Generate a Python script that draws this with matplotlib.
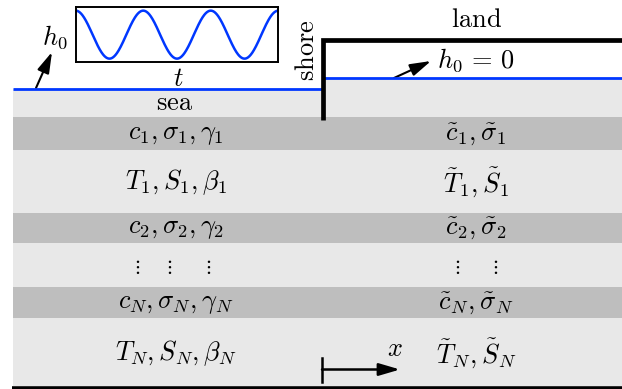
import numpy as np
import matplotlib.pyplot as plt
from matplotlib.patches import Rectangle, FancyArrowPatch

plt.rcParams['mathtext.fontset'] = 'cm'
plt.rcParams['font.family'] = ['DejaVu Serif']

# ---- data ----
sea_labels = [r'$c_1,\sigma_1,\gamma_1$', r'$T_1,S_1,\beta_1$', r'$c_2,\sigma_2,\gamma_2$',
              r'$\vdots\quad\ \vdots\quad\ \ \vdots$', r'$c_N,\sigma_N,\gamma_N$', r'$T_N,S_N,\beta_N$']
land_labels = [r'$\tilde{c}_1,\tilde{\sigma}_1$', r'$\tilde{T}_1,\tilde{S}_1$',
               r'$\tilde{c}_2,\tilde{\sigma}_2$', r'$\vdots\quad\ \ \vdots$',
               r'$\tilde{c}_N,\tilde{\sigma}_N$', r'$\tilde{T}_N,\tilde{S}_N$']
layer_tops = [117, 149.5, 212.5, 242.5, 287, 318]
layer_bottoms = [149.5, 212.5, 242.5, 287, 318, 386]
layer_shade = ['dark', 'light', 'dark', 'light', 'dark', 'light']
n_periods = 3

LIGHT = '#e8e8e8'
DARK = '#bebebe'
BLUE = '#0037ff'
FS = 19

fig = plt.figure(figsize=(6.22, 3.89), dpi=100)
ax = fig.add_axes([0, 0, 1, 1])
ax.set_xlim(0, 622)
ax.set_ylim(389, 0)
ax.axis('off')

# sea surface layers
ax.add_patch(Rectangle((13, 88.5), 309, 117 - 88.5, color=LIGHT, lw=0))
ax.add_patch(Rectangle((322, 78), 300, 117 - 78, color=LIGHT, lw=0))
for top, bot, sh in zip(layer_tops, layer_bottoms, layer_shade):
    ax.add_patch(Rectangle((13, top), 609, bot - top, color=DARK if sh == 'dark' else LIGHT, lw=0))

for top, bot, sl, ll in zip(layer_tops, layer_bottoms, sea_labels, land_labels):
    yc = (top + bot) / 2 + 1
    if 'vdots' in sl:
        ax.text(172, yc + 1, sl, fontsize=14, ha='center', va='center')
        ax.text(475, yc + 1, ll, fontsize=14, ha='center', va='center')
    else:
        ax.text(176, yc, sl, fontsize=FS, ha='center', va='center')
        ax.text(476, yc, ll, fontsize=FS, ha='center', va='center')

# water lines
ax.plot([13, 322], [88.5, 88.5], color=BLUE, lw=2, solid_capstyle='butt')
ax.plot([322, 622], [78, 78], color=BLUE, lw=2, solid_capstyle='butt')

# shore / land outline
ax.plot([322.5, 322.5, 622], [120, 40, 40], color='black', lw=3.4,
        solid_joinstyle='miter', solid_capstyle='butt')
# bottom line
ax.plot([12, 622], [387.5, 387.5], color='black', lw=2.6, solid_capstyle='butt')

# arrows
head = '-|>,head_length=0.75,head_width=0.22'
ax.add_patch(FancyArrowPatch((36, 88), (52, 52), arrowstyle=head, mutation_scale=17,
                             lw=1.5, color='black', shrinkA=0, shrinkB=0))
ax.add_patch(FancyArrowPatch((394, 78), (431, 61), arrowstyle=head, mutation_scale=17,
                             lw=1.5, color='black', shrinkA=0, shrinkB=0))
ax.plot([322, 322], [358, 382], color='black', lw=1.8)
ax.add_patch(FancyArrowPatch((322, 369.5), (400, 369.5), arrowstyle=head, mutation_scale=17,
                             lw=1.8, color='black', shrinkA=0, shrinkB=0))

# texts
ax.text(55, 37, r'$h_0$', fontsize=FS, ha='center', va='center')
ax.text(178, 78, r'$t$', fontsize=FS, ha='center', va='center')
ax.text(175, 102, r'$\mathrm{sea}$', fontsize=FS, ha='center', va='center')
ax.text(306, 50, r'$\mathrm{shore}$', fontsize=FS, ha='center', va='center', rotation=90)
ax.text(477, 19, r'$\mathrm{land}$', fontsize=FS, ha='center', va='center')
ax.text(437, 60, r'$h_0\,=\,0$', fontsize=FS, ha='left', va='center')
ax.text(395, 349, r'$x$', fontsize=FS, ha='center', va='center')

# inset with tide signal
iax = fig.add_axes([75.7 / 622, 1 - 62 / 389, 202.6 / 622, 54.7 / 389])
t = np.linspace(0, n_periods, 600)
iax.plot(t, np.cos(2 * np.pi * t), color=BLUE, lw=1.8)
iax.set_xlim(0, n_periods)
iax.set_ylim(-1.14, 1.14)
iax.set_xticks([])
iax.set_yticks([])
for s in iax.spines.values():
    s.set_linewidth(1.4)

fig.savefig('out.png', dpi=100)
